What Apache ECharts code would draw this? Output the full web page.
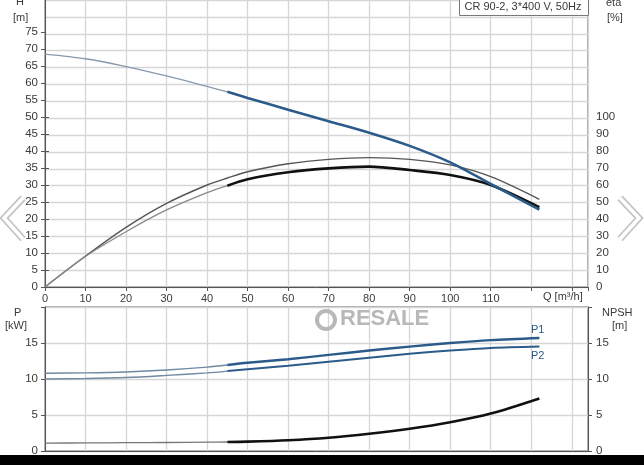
<!DOCTYPE html>
<html><head><meta charset="utf-8">
<script src="https://cdn.jsdelivr.net/npm/echarts@6/dist/echarts.min.js"></script>
<style>html,body{margin:0;padding:0;background:#fff}#c{width:644px;height:465px}</style>
</head><body><div id="c"></div>
<script>
// ---- data ----
const q        = [0, 10, 20, 30, 40, 45, 50, 60, 70, 80, 90, 100, 110, 122];
const head     = [69.0, 67.6, 65.3, 62.5, 59.4, 57.8, 56.0, 52.5, 49.1, 45.7, 41.8, 36.9, 30.5, 22.9];
const etaPump  = [0, 18.2, 35.1, 49.2, 60.0, 64.1, 67.8, 72.5, 75.1, 76.1, 75.1, 71.8, 64.9, 51.6];
const etaTotal = [0, 18.0, 32.5, 45.3, 55.5, 59.6, 63.4, 67.5, 69.8, 70.8, 68.8, 65.9, 60.0, 46.9];
const p1       = [10.8, 10.85, 10.98, 11.25, 11.65, 11.95, 12.25, 12.75, 13.35, 13.95, 14.5, 15.0, 15.4, 15.7];
const p2       = [10.0, 10.06, 10.2, 10.5, 10.85, 11.1, 11.35, 11.85, 12.4, 12.95, 13.5, 13.95, 14.3, 14.5];
const npsh     = [1.1, 1.12, 1.15, 1.18, 1.22, 1.25, 1.3, 1.5, 1.85, 2.4, 3.1, 4.0, 5.2, 7.3];
const opStart  = 45;          // start of the bold (operating) range
const qTicksMaxLabel = 110;   // last numbered Q label
const hLabelMax = 75, etaLabelMax = 100, pLabelMax = 15;
const title = 'CR 90-2, 3*400 V, 50Hz';

const FONT = 'Liberation Sans, Arial, sans-serif';
const TXT = '#3a3a3a';
const GRIDC = '#d6d6d6';
const thin = (a) => q.map((x, i) => [x, a[i]]).filter(p => p[0] <= opStart);
const thick = (a) => q.map((x, i) => [x, a[i]]).filter(p => p[0] >= opStart);

const chart = echarts.init(document.getElementById('c'), null, {renderer: 'canvas'});
const L = 45, R = 56;
const xBase = {type: 'value', min: 0, max: 134, interval: 10};
const hidden = {show: false};

function line(data, xi, yi, color, w, z) {
  return {type: 'line', xAxisIndex: xi, yAxisIndex: yi, data, smooth: 0.3, symbol: 'none',
          lineStyle: {color, width: w}, z: z || 3, silent: true, animation: false};
}

chart.setOption({
  animation: false,
  grid: [
    {left: L, right: R, top: -2, bottom: 178, show: true, borderColor: '#555', borderWidth: 1},
    {left: L, right: R, top: 32, bottom: 178},
    {left: L, right: R, top: 117, bottom: 178},
    {left: L, right: R, top: 307, bottom: 14, show: true, borderColor: '#555', borderWidth: 1}
  ],
  xAxis: [
    Object.assign({}, xBase, {gridIndex: 0,
      axisLine: {show: true, lineStyle: {color: '#555'}},
      axisTick: {show: true, length: 4, lineStyle: {color: '#555'}},
      axisLabel: {margin: 6, fontSize: 11, fontFamily: FONT, color: TXT,
        formatter: v => (v <= qTicksMaxLabel && v % 10 === 0) ? String(v) : ''},
      splitLine: {show: true, lineStyle: {color: GRIDC, width: 1.3}}}),
    Object.assign({}, xBase, {gridIndex: 1, show: false}),
    Object.assign({}, xBase, {gridIndex: 2, show: false}),
    Object.assign({}, xBase, {gridIndex: 3,
      axisLine: {show: true, lineStyle: {color: '#555'}},
      axisTick: hidden, axisLabel: hidden,
      splitLine: {show: true, lineStyle: {color: GRIDC, width: 1.3}}})
  ],
  yAxis: [
    {type: 'value', gridIndex: 0, min: 0, max: 85, interval: 5, axisLine: {show: true, lineStyle: {color: '#555'}},
     axisTick: hidden, axisLabel: hidden, splitLine: {show: true, lineStyle: {color: GRIDC, width: 1.3}}},
    {type: 'value', gridIndex: 1, min: 0, max: hLabelMax, interval: 5, position: 'left',
     axisLine: hidden, axisTick: {show: true, length: 4, lineStyle: {color: '#555'}},
     axisLabel: {margin: 7, fontSize: 11.5, fontFamily: FONT, color: TXT}, splitLine: hidden},
    {type: 'value', gridIndex: 2, min: 0, max: etaLabelMax, interval: 10, position: 'right',
     axisLine: hidden, axisTick: {show: true, length: 4, lineStyle: {color: '#555'}},
     axisLabel: {margin: 8, fontSize: 11.5, fontFamily: FONT, color: TXT}, splitLine: hidden},
    {type: 'value', gridIndex: 3, min: 0, max: 20, interval: 5, position: 'left',
     axisLine: {show: true, lineStyle: {color: '#555'}}, axisTick: {show: true, length: 4, lineStyle: {color: '#555'}},
     axisLabel: {margin: 7, fontSize: 11.5, fontFamily: FONT, color: TXT, formatter: v => v <= pLabelMax ? String(v) : ''},
     splitLine: {show: true, lineStyle: {color: GRIDC, width: 1.3}}},
    {type: 'value', gridIndex: 3, min: 0, max: 20, interval: 5, position: 'right',
     axisLine: {show: true, lineStyle: {color: '#555'}}, axisTick: {show: true, length: 4, lineStyle: {color: '#555'}},
     axisLabel: {margin: 8, fontSize: 11.5, fontFamily: FONT, color: TXT, formatter: v => v <= pLabelMax ? String(v) : ''},
     splitLine: hidden}
  ],
  series: [
    line(thin(head), 0, 0, '#8799ad', 1.3),
    line(thick(head), 0, 0, '#2b5b8a', 2.6, 5),
    line(q.map((x, i) => [x, etaPump[i]]), 2, 2, '#555', 1.4),
    line(thin(etaTotal), 2, 2, '#8a8a8a', 1.4),
    line(thick(etaTotal), 2, 2, '#111', 2.6, 4),
    line(thin(p1), 3, 3, '#6f88a3', 1.4),
    line(thick(p1), 3, 3, '#2b5b8a', 2.4, 5),
    line(thin(p2), 3, 3, '#6f88a3', 1.4),
    line(thick(p2), 3, 3, '#2b5b8a', 2.0, 5),
    line(thin(npsh), 3, 4, '#777', 1.3),
    line(thick(npsh), 3, 4, '#111', 2.6, 4)
  ],
  graphic: [
    {type: 'text', left: 16, top: -4, z: 100, style: {text: 'H', font: '11px ' + FONT, fill: TXT}},
    {type: 'text', left: 13, top: 12, z: 100, style: {text: '[m]', font: '11px ' + FONT, fill: TXT}},
    {type: 'text', left: 606, top: -3, z: 100, style: {text: 'eta', font: '11px ' + FONT, fill: TXT}},
    {type: 'text', left: 607, top: 12, z: 100, style: {text: '[%]', font: '11px ' + FONT, fill: TXT}},
    {type: 'text', left: 543, top: 291, z: 100, style: {text: 'Q [m³/h]', font: '11px ' + FONT, fill: TXT}},
    {type: 'text', left: 14, top: 307, z: 100, style: {text: 'P', font: '11px ' + FONT, fill: TXT}},
    {type: 'text', left: 5, top: 320, z: 100, style: {text: '[kW]', font: '11px ' + FONT, fill: TXT}},
    {type: 'text', left: 602, top: 307, z: 100, style: {text: 'NPSH', font: '11px ' + FONT, fill: TXT}},
    {type: 'text', left: 612, top: 320, z: 100, style: {text: '[m]', font: '11px ' + FONT, fill: TXT}},
    {type: 'text', left: 531, top: 324, z: 100, style: {text: 'P1', font: '11px ' + FONT, fill: '#2b5b8a'}},
    {type: 'text', left: 531, top: 350, z: 100, style: {text: 'P2', font: '11px ' + FONT, fill: '#2b5b8a'}},
    {type: 'group', left: 459, top: -1, z: 100, children: [
      {type: 'rect', z: 100, shape: {x: 0, y: 0, width: 129, height: 16}, style: {fill: '#fff', stroke: '#777', lineWidth: 1}},
      {type: 'text', z: 101, x: 5, y: 2, style: {text: title, font: '11px ' + FONT, fill: TXT}}
    ]},
    // watermark
    {type: 'circle', shape: {cx: 326, cy: 320, r: 9}, style: {fill: 'none', stroke: '#b8b8b8', lineWidth: 4}, z: 100},
    {type: 'text', left: 340, top: 308, style: {text: 'RESALE', font: 'bold 22px ' + FONT, fill: '#b8b8b8'}, z: 100},
    // navigation chevrons
    {type: 'polyline', shape: {points: [[23, 198], [4, 218], [23, 239]]}, style: {stroke: '#c4c4c4', lineWidth: 7, fill: 'none'}, z: 100},
    {type: 'polyline', shape: {points: [[23, 198], [4, 218], [23, 239]]}, style: {stroke: '#fff', lineWidth: 3.5, fill: 'none'}, z: 101},
    {type: 'polyline', shape: {points: [[620, 198], [639, 218], [620, 239]]}, style: {stroke: '#c4c4c4', lineWidth: 7, fill: 'none'}, z: 100},
    {type: 'polyline', shape: {points: [[620, 198], [639, 218], [620, 239]]}, style: {stroke: '#fff', lineWidth: 3.5, fill: 'none'}, z: 101},
    // bottom black strip
    {type: 'rect', shape: {x: 0, y: 455, width: 644, height: 10}, style: {fill: '#000'}, z: 120}
  ]
});
</script></body></html>
